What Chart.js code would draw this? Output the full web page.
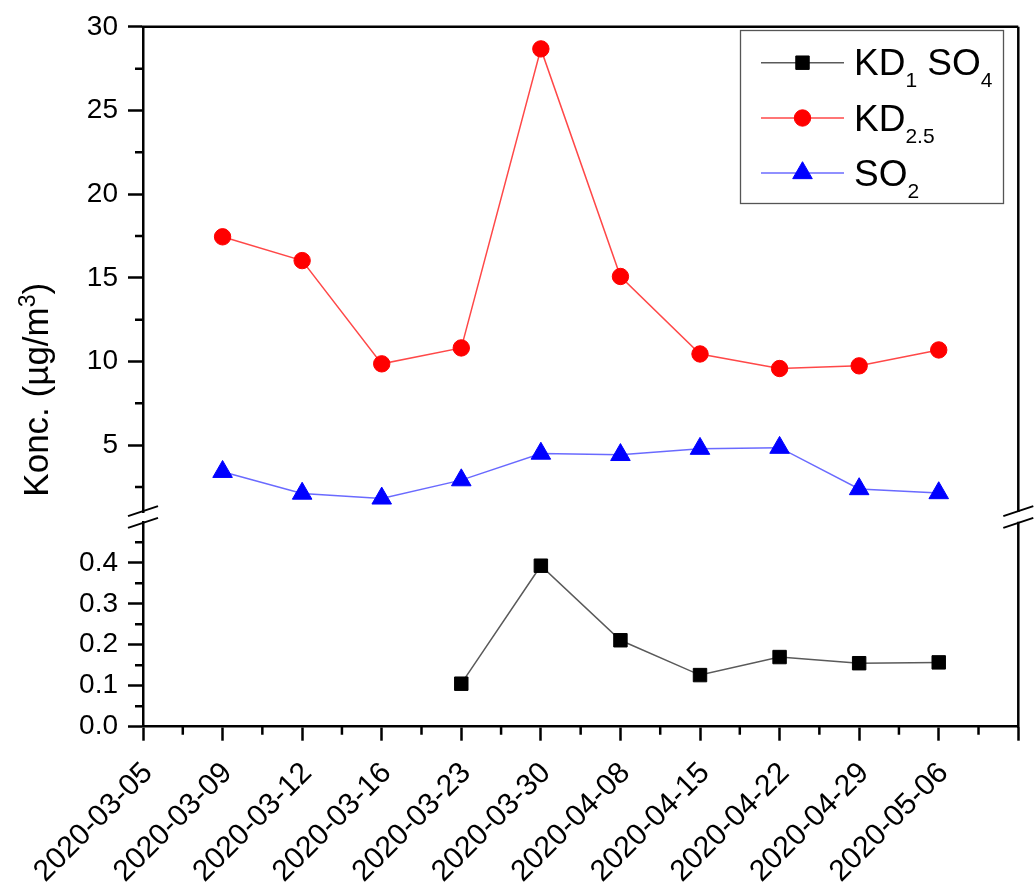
<!DOCTYPE html>
<html><head><meta charset="utf-8">
<script src="https://cdn.jsdelivr.net/npm/chart.js@4/dist/chart.umd.min.js"></script>
<style>html,body{margin:0;padding:0;background:#fff;}canvas{display:block}</style>
</head><body>
<canvas id="c" width="1034" height="891"></canvas>
<script>
// ---- data ----
const categories = ['2020-03-05','2020-03-09','2020-03-12','2020-03-16','2020-03-23','2020-03-30','2020-04-08','2020-04-15','2020-04-22','2020-04-29','2020-05-06',''];
const kd1SO4 = [null,null,null,null,0.105,0.393,0.211,0.126,0.170,0.155,0.157,null];
const kd25   = [null,17.45,16.03,9.86,10.81,28.68,15.08,10.45,9.58,9.74,10.69,null];
const so2    = [null,3.41,2.11,1.82,2.91,4.50,4.42,4.79,4.85,2.38,2.14,null];
const yTopTicks = [5,10,15,20,25,30];
const yTopMinor = [2.5,7.5,12.5,17.5,22.5,27.5];
const yBotTicks = [0,0.1,0.2,0.3,0.4];
const yBotMinor = [0.05,0.15,0.25,0.35,0.45];
const yTopRange = [1,30];
const yBotRange = [0,0.5];
const yTitleParts = [['Konc. (µg/m',0],['3',1],[')',0]];
const seriesNames = ['KD1 SO4','KD2.5','SO2'];
const legendParts = [
  [['KD',0],['1',1],[' SO',0],['4',1]],
  [['KD',0],['2.5',1]],
  [['SO',0],['2',1]]
];

const FONT = "'Liberation Sans', Arial, sans-serif";
Chart.defaults.color = '#000';
Chart.defaults.font.family = FONT;

const frameAndExtras = {
  id: 'frameAndExtras',
  afterDraw(chart) {
    const ctx = chart.ctx;
    const ca = chart.chartArea;
    const x = chart.scales.x, yT = chart.scales.yTop, yB = chart.scales.yBot;
    ctx.save();
    ctx.strokeStyle = '#000';
    ctx.lineWidth = 2.5;
    // top & right frame
    ctx.beginPath();
    ctx.moveTo(ca.left - 1.25, ca.top); ctx.lineTo(ca.right, ca.top);
    ctx.moveTo(ca.right, ca.top); ctx.lineTo(ca.right, yT.bottom);
    ctx.moveTo(ca.right, yB.top); ctx.lineTo(ca.right, ca.bottom + 1.25);
    ctx.stroke();
    // minor ticks y
    ctx.beginPath();
    yTopMinor.forEach(v => { const p = yT.getPixelForValue(v); ctx.moveTo(ca.left - 8, p); ctx.lineTo(ca.left, p); });
    yBotMinor.forEach(v => { const p = yB.getPixelForValue(v); ctx.moveTo(ca.left - 8, p); ctx.lineTo(ca.left, p); });
    // minor ticks x
    for (let i = 0; i < categories.length - 1; i++) {
      const p = x.getPixelForValue(i + 0.5);
      ctx.moveTo(p, ca.bottom); ctx.lineTo(p, ca.bottom + 8);
    }
    ctx.stroke();
    // break marks
    ctx.lineWidth = 2;
    [ca.left, ca.right].forEach(px => {
      [yT.bottom - 1, yB.top + 1].forEach(py => {
        ctx.beginPath();
        ctx.moveTo(px - 15, py + 5); ctx.lineTo(px + 15, py - 5);
        ctx.stroke();
      });
    });
    // y title
    ctx.fillStyle = '#000';
    ctx.textAlign = 'left';
    ctx.textBaseline = 'alphabetic';
    let total = 0;
    yTitleParts.forEach(([t, sup]) => { ctx.font = (sup ? '23px ' : '35px ') + FONT; total += ctx.measureText(t).width; });
    ctx.translate(48, (ca.top + ca.bottom) / 2 + 13);
    ctx.rotate(-Math.PI / 2);
    let tx = -total / 2;
    yTitleParts.forEach(([t, sup]) => {
      ctx.font = (sup ? '23px ' : '35px ') + FONT;
      ctx.fillText(t, tx, sup ? -13 : 0);
      tx += ctx.measureText(t).width;
    });
    ctx.restore();

    // legend
    ctx.save();
    ctx.strokeStyle = '#555';
    ctx.lineWidth = 1.3;
    ctx.strokeRect(740.5, 30.5, 263, 173);
    const rows = [62.7, 118, 173];
    chart.data.datasets.forEach((ds, i) => {
      const cy = rows[i];
      ctx.strokeStyle = ds.borderColor;
      ctx.lineWidth = ds.borderWidth;
      ctx.beginPath(); ctx.moveTo(761, cy); ctx.lineTo(844, cy); ctx.stroke();
      ctx.fillStyle = ds.pointBackgroundColor;
      ctx.strokeStyle = ds.pointBorderColor;
      ctx.lineWidth = 1;
      Chart.helpers.drawPoint(ctx, {pointStyle: ds.pointStyle, radius: ds.pointRadius, borderWidth: 1, rotation: 0}, 802.5, cy);
      let tx = 854;
      const base = cy + 12.5;
      ctx.fillStyle = '#000';
      ctx.textAlign = 'left';
      ctx.textBaseline = 'alphabetic';
      legendParts[i].forEach(([t, sub]) => {
        ctx.font = (sub ? '21px ' : '37px ') + FONT;
        ctx.fillText(t, tx, sub ? base + 12 : base);
        tx += ctx.measureText(t).width;
      });
    });
    ctx.restore();
  }
};

const yCommon = {
  type: 'linear',
  position: 'left',
  stack: 'v',
  border: {display: true, color: '#000', width: 2.5},
  grid: {drawOnChartArea: false, drawTicks: true, tickLength: 15, tickWidth: 2.5, tickColor: '#000', color: '#000'},
  afterFit(s) { s.width = 143; }
};

new Chart(document.getElementById('c'), {
  type: 'line',
  data: {
    labels: categories,
    datasets: [
      {label: seriesNames[0], data: kd1SO4, yAxisID: 'yBot', borderColor: '#5a5a5a', borderWidth: 1.5,
       pointStyle: 'rect', pointRadius: 9.5, pointBackgroundColor: '#000', pointBorderColor: '#000', pointBorderWidth: 1},
      {label: seriesNames[1], data: kd25, yAxisID: 'yTop', borderColor: 'rgba(255,40,40,0.85)', borderWidth: 1.5,
       pointStyle: 'circle', pointRadius: 8.2, pointBackgroundColor: '#ff0000', pointBorderColor: '#ff0000', pointBorderWidth: 1},
      {label: seriesNames[2], data: so2, yAxisID: 'yTop', borderColor: 'rgba(80,80,255,0.85)', borderWidth: 1.5,
       pointStyle: 'triangle', pointRadius: 11.3, pointBackgroundColor: '#0000ff', pointBorderColor: '#0000ff', pointBorderWidth: 1}
    ]
  },
  options: {
    responsive: false,
    animation: false,
    layout: {padding: {top: 24.5, right: 15.7, left: 0, bottom: 0}},
    plugins: {legend: {display: false}, tooltip: {enabled: false}, title: {display: false}},
    elements: {line: {tension: 0}},
    scales: {
      x: {
        type: 'category',
        offset: false,
        border: {display: true, color: '#000', width: 2.5},
        grid: {drawOnChartArea: false, drawTicks: true, tickLength: 14, tickWidth: 2.5, tickColor: '#000', color: '#000'},
        ticks: {autoSkip: false, minRotation: 45, maxRotation: 45, padding: 15, labelOffset: 5, font: {size: 30}, color: '#000'},
        afterFit(s) { s.height = 891 - 726.7; s.paddingRight = 0; s.paddingLeft = 0; }
      },
      yBot: Object.assign({}, yCommon, {
        min: yBotRange[0], max: yBotRange[1], stackWeight: 205.5,
        afterBuildTicks(s) { s.ticks = yBotTicks.map(v => ({value: v})); },
        ticks: {autoSkip: false, padding: 10, font: {size: 28}, color: '#000', callback: v => Number(v).toFixed(1)}
      }),
      yGap: {
        type: 'linear', position: 'left', stack: 'v', stackWeight: 9.8, min: 0, max: 1,
        border: {display: false}, grid: {display: false, drawTicks: false}, ticks: {display: false},
        afterFit(s) { s.width = 143; }
      },
      yTop: Object.assign({}, yCommon, {
        min: yTopRange[0], max: yTopRange[1], stackWeight: 486.9,
        afterBuildTicks(s) { s.ticks = yTopTicks.map(v => ({value: v})); },
        ticks: {autoSkip: false, padding: 10, font: {size: 28}, color: '#000', callback: v => String(v)}
      })
    }
  },
  plugins: [frameAndExtras]
});
</script>
</body></html>
